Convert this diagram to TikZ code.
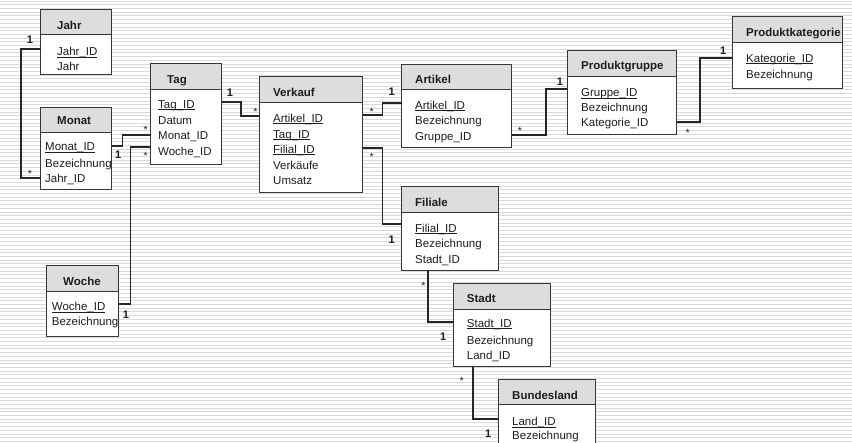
\documentclass[tikz,border=0pt]{standalone}
\usepackage{fontspec}
\setmainfont{Liberation Sans}
\usetikzlibrary{fit,calc}
\definecolor{headgray}{RGB}{221,221,221}
\definecolor{edgec}{RGB}{55,55,55}
\definecolor{stripec}{RGB}{218,218,218}
\definecolor{txtc}{RGB}{30,30,30}
\newcommand\keyul[1]{\setbox0\hbox{#1}\rlap{\rule[-1.7pt]{\wd0}{0.7pt}}\box0}
\tikzset{
  entbox/.style={fill=white, inner sep=0pt},
  conn/.style={draw=black!85, line width=1.7pt},
  attr/.style={anchor=base west, inner sep=0pt, font=\fontsize{11.5}{13}\selectfont, text=txtc},
  ttl/.style={anchor=base west, inner sep=0pt, font=\fontsize{11.5}{13}\selectfont\bfseries, text=txtc},
  one/.style={anchor=base, inner sep=0pt, font=\fontsize{11}{12}\selectfont\bfseries, text=txtc},
  many/.style={anchor=base, inner sep=0pt, font=\fontsize{10.5}{12}\selectfont, text=txtc},
}
% name, x1, y1, x2, y2, header bottom
\newcommand\entitybox[6]{%
  \node[entbox, fit={(#2,#3) (#4,#5)}] (#1) {};
  \fill[headgray] (#2,#3) rectangle (#4,#6);
  \draw[edgec, line width=0.9pt] (#1.north west) rectangle (#1.south east);
  \draw[edgec, line width=1pt] (#2,#6) -- (#4,#6);
}
\begin{document}
\begin{tikzpicture}[x=1pt,y=-1pt]
\useasboundingbox (0,0) rectangle (852,443);
\clip (0,0) rectangle (852,443);
% background stripes
\foreach \i in {0,...,120} {
  \draw[stripec, line width=1pt] (0,\i*3.7+1.2) -- (852,\i*3.7+1.2);
}
% entities
\entitybox{jahr}{40.7}{10}{111}{74}{35}
\node[ttl] at (57,29.5) {Jahr};
\node[attr] at (57,56) {\keyul{Jahr\_ID}};
\node[attr] at (57,71) {Jahr};

\entitybox{monat}{40.7}{107.3}{111.3}{189.3}{132.7}
\node[ttl] at (57,124.9) {Monat};
\node[attr] at (45,150.9) {\keyul{Monat\_ID}};
\node[attr] at (45,167.5) {Bezeichnung};
\node[attr] at (45,182.5) {Jahr\_ID};

\entitybox{tag}{150.7}{64}{221.3}{164.7}{89.3}
\node[ttl] at (167,83.5) {Tag};
\node[attr] at (158,108.5) {\keyul{Tag\_ID}};
\node[attr] at (158,124.2) {Datum};
\node[attr] at (158,139.2) {Monat\_ID};
\node[attr] at (158,155.2) {Woche\_ID};

\entitybox{verkauf}{260}{76.7}{362.7}{192.7}{102.3}
\node[ttl] at (273,96.5) {Verkauf};
\node[attr] at (273,122.2) {\keyul{Artikel\_ID}};
\node[attr] at (273,138.2) {\keyul{Tag\_ID}};
\node[attr] at (273,153.2) {\keyul{Filial\_ID}};
\node[attr] at (273,169.2) {Verkäufe};
\node[attr] at (273,184.2) {Umsatz};

\entitybox{artikel}{401.7}{64.3}{511.7}{147.3}{90}
\node[ttl] at (415,83.5) {Artikel};
\node[attr] at (415,109.2) {\keyul{Artikel\_ID}};
\node[attr] at (415,124.5) {Bezeichnung};
\node[attr] at (415,140.9) {Gruppe\_ID};

\entitybox{pgruppe}{567.3}{51}{676.7}{134}{76.7}
\node[ttl] at (581,69.2) {Produktgruppe};
\node[attr] at (581,96.9) {\keyul{Gruppe\_ID}};
\node[attr] at (581,111.9) {Bezeichnung};
\node[attr] at (581,126.9) {Kategorie\_ID};

\entitybox{pkat}{732.3}{16.7}{842}{88.3}{42.7}
\node[ttl] at (746,36.9) {Produktkategorie};
\node[attr] at (746,62.5) {\keyul{Kategorie\_ID}};
\node[attr] at (746,78.2) {Bezeichnung};

\entitybox{woche}{46.7}{265.7}{118}{336.7}{291.7}
\node[ttl] at (63,285.2) {Woche};
\node[attr] at (51.7,310.9) {\keyul{Woche\_ID}};
\node[attr] at (51.7,325.9) {Bezeichnung};

\entitybox{filiale}{401.7}{186.7}{498.3}{270}{212.3}
\node[ttl] at (415,206.5) {Filiale};
\node[attr] at (415,232.5) {\keyul{Filial\_ID}};
\node[attr] at (415,247.5) {Bezeichnung};
\node[attr] at (415,263.5) {Stadt\_ID};

\entitybox{stadt}{453.3}{283.3}{550}{366.7}{309.3}
\node[ttl] at (466.7,302.5) {Stadt};
\node[attr] at (466.7,327.5) {\keyul{Stadt\_ID}};
\node[attr] at (466.7,344.2) {Bezeichnung};
\node[attr] at (466.7,359.2) {Land\_ID};

\entitybox{bland}{498.3}{380}{595}{460}{405}
\node[ttl] at (512,399.2) {Bundesland};
\node[attr] at (512,425.9) {\keyul{Land\_ID}};
\node[attr] at (512,439.2) {Bezeichnung};

% connectors
\draw[conn] (jahr.west |- 0,49) -- ++(-19.7,0) |- (monat.west |- 0,177.7);
\draw[conn] (monat.east |- 0,146) -- ++(11,0) |- (tag.west |- 0,135);
\draw[conn] (tag.west |- 0,147.3) -- ++(-20,0) |- (woche.east |- 0,304.3);
\draw[conn] (tag.east |- 0,102.3) -- ++(19.7,0) |- (verkauf.west |- 0,115.7);
\draw[conn] (verkauf.east |- 0,115) -- ++(19.5,0) |- (artikel.west |- 0,102.7);
\draw[conn] (verkauf.east |- 0,147.7) -- ++(19.5,0) |- (filiale.west |- 0,224.3);
\draw[conn] (artikel.east |- 0,135) -- ++(34.3,0) |- (pgruppe.west |- 0,89.3);
\draw[conn] (pgruppe.east |- 0,122.3) -- ++(23.3,0) |- (pkat.west |- 0,58.3);
\draw[conn] (filiale.south -| 428.3,0) |- (stadt.west |- 0,321.7);
\draw[conn] (stadt.south -| 472.7,0) |- (bland.west |- 0,419);

% multiplicities
\foreach \p in {(30,43.3),(118.3,159),(126,319),(230,96.7),(391.7,95.7),(391.7,244),(560,85.7),(723.3,54.7),(443.3,340.7),(488.3,437.3)}
  \node[one] at \p {1};
\foreach \p in {(30,177.5),(145.7,133.5),(145.7,159.8),(255.3,115.8),(371.7,115.8),(371.7,160.1),(520,134.1),(687.7,136.8),(423.3,289.1),(461.7,384.1)}
  \node[many] at \p {*};
\end{tikzpicture}
\end{document}
